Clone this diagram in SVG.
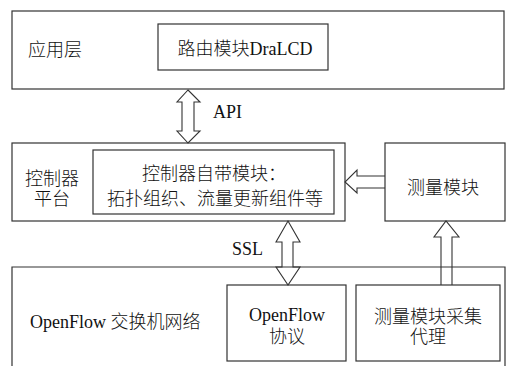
<svg xmlns="http://www.w3.org/2000/svg" width="513" height="366" viewBox="0 0 513 366">
<style>
.box{fill:none;stroke:#333;stroke-width:1.2}
.arr{fill:none;stroke:#333;stroke-width:1.1;stroke-linejoin:miter}
text{font-family:"Liberation Serif","Noto Sans CJK SC",serif;font-size:18px;font-weight:300;fill:#111}
.c{text-anchor:middle}
</style>
<rect width="513" height="366" fill="#fff"/>
<g id="app-layer">
<rect class="box" x="12" y="11" width="492" height="78"/>
<text x="28" y="56">应用层</text>
</g>
<g id="routing-module">
<rect class="box" x="158" y="24" width="170" height="46"/>
<text class="c" x="245" y="55">路由模块DraLCD</text>
</g>
<g id="controller-platform">
<rect class="box" x="12" y="143" width="333" height="78"/>
<text class="c" x="52" y="185">控制器</text>
<text class="c" x="52" y="205">平台</text>
</g>
<g id="controller-modules">
<rect class="box" x="93" y="150" width="241" height="64"/>
<text class="c" x="214" y="180">控制器自带模块：</text>
<text class="c" x="215" y="205">拓扑组织、流量更新组件等</text>
</g>
<g id="measurement-module">
<rect class="box" x="385" y="143" width="120" height="78"/>
<text class="c" x="443" y="194">测量模块</text>
</g>
<g id="openflow-network">
<path class="box" d="M12,370 V267 H505 V370"/>
<text x="30" y="328">OpenFlow 交换机网络</text>
</g>
<g id="openflow-protocol">
<rect class="box" x="227" y="285" width="119" height="76"/>
<text class="c" x="287" y="321">OpenFlow</text>
<text class="c" x="287" y="343">协议</text>
</g>
<g id="measurement-agent">
<rect class="box" x="356" y="285" width="144" height="76"/>
<text class="c" x="428" y="323">测量模块采集</text>
<text class="c" x="428" y="343">代理</text>
</g>
<g id="connectors">
<path class="arr" d="M188,90 L200,102 H194 V131 H200 L188,143 L177,131 H182 V102 H177 Z"/>
<text x="213" y="118">API</text>
<path class="arr" d="M288,221 L300,242 H293 V267 H300 L288,285 L276,267 H282 V242 H276 Z"/>
<text x="232" y="255">SSL</text>
<path class="arr" d="M385,176 H357 V170 L345,182 L357,193 V188 H385"/>
<path class="arr" d="M441,285 V237 H434 L446,221 L459,237 H452 V285"/>
</g>
</svg>
